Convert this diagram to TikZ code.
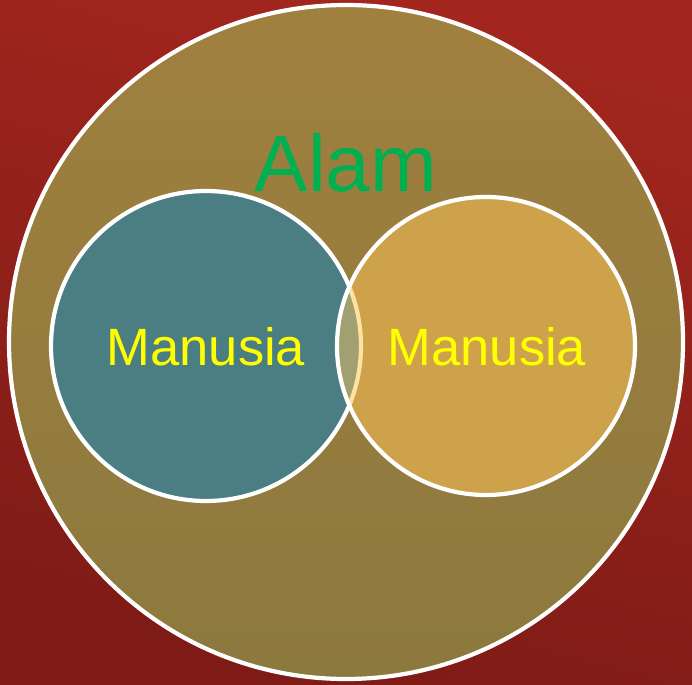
\documentclass[tikz,border=0pt]{standalone}
\usepackage{fontspec}
\setmainfont{Liberation Sans}
\definecolor{bgtop}{HTML}{A2261E}
\definecolor{bgbot}{HTML}{7E1B16}
\definecolor{bigtop}{HTML}{A0803F}
\definecolor{bigbot}{HTML}{8C793D}
\definecolor{tealc}{HTML}{4A7E83}
\definecolor{goldc}{HTML}{CEA24A}
\definecolor{overc}{HTML}{A0A070}
\definecolor{palec}{HTML}{FFE2A2}
\definecolor{alamc}{HTML}{00B050}
\definecolor{manc}{HTML}{FFFF00}
\tikzset{
  ring/.style={draw=white, line width=4.2pt},
  mtext/.style={text=manc, font=\fontsize{52.5}{52.5}\selectfont, anchor=base, inner sep=0pt},
  atext/.style={text=alamc, font=\fontsize{80}{80}\selectfont, anchor=base, inner sep=0pt}
}
\begin{document}
\begin{tikzpicture}[x=1pt,y=-1pt]
\useasboundingbox (0,0) rectangle (692,684);
\shade[top color=bgtop, bottom color=bgbot, shading angle=-15] (0,0) rectangle (692,684);
\shade[ring, top color=bigtop, bottom color=bigbot] (346,342) circle[radius=337pt];
\coordinate (lc) at (206,346);
\coordinate (rc) at (486,346);
\fill[tealc] (lc) circle[radius=155pt];
\draw[ring] (lc) circle[radius=155pt];
\fill[goldc] (rc) circle[radius=149pt];
\begin{scope}
  \clip (lc) circle[radius=155pt];
  \fill[overc] (rc) circle[radius=149pt];
\end{scope}
\begin{scope}
  \clip (rc) circle[radius=149pt];
  \draw[draw=palec, line width=4.2pt] (lc) circle[radius=155pt];
\end{scope}
\draw[ring] (rc) circle[radius=149pt];
\node[atext] (alam) at (346,192) {Alam};
\node[mtext] (m1) at (206,365) {Manusia};
\node[mtext] (m2) at (487,365) {Manusia};
\end{tikzpicture}
\end{document}
